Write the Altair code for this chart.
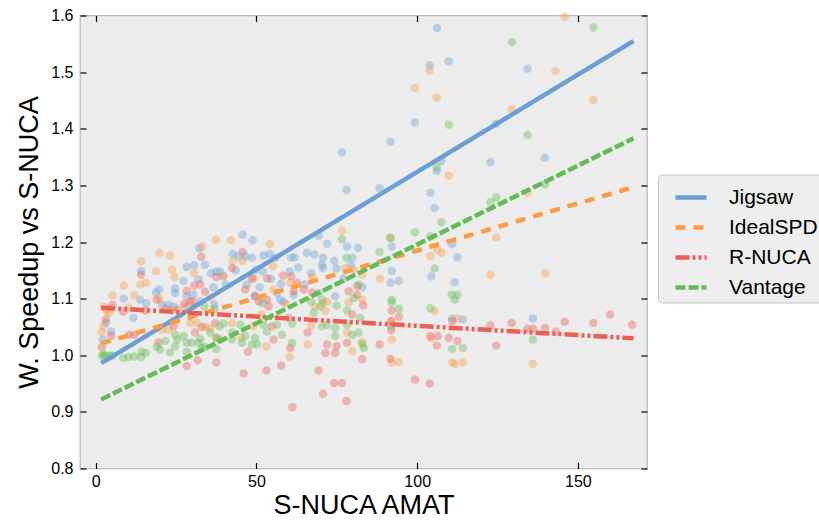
import altair as alt
import pandas as pd

# Series and styling
SERIES = ["Jigsaw", "IdealSPD", "R-NUCA", "Vantage"]
COLORS = ["#6b9fd4", "#fd9b45", "#ec5f57", "#63bb55"]
DASHES = [[1, 0], [10, 8], [14, 3, 3, 3, 3, 3], [10, 3]]

X_TICKS = [0, 50, 100, 150]
Y_TICKS = [0.8, 0.9, 1.0, 1.1, 1.2, 1.3, 1.4, 1.5, 1.6]

# Per-workload measurements: S-NUCA AMAT vs weighted speedup
jigsaw_x = [2.1, 3.2, 4.8, 8.7, 11.7, 13.8, 14.1, 15.7, 18.8, 19.7, 20.6, 22.6, 24.2, 24.7, 24.7,
            27.3, 28.3, 28.3, 30.4, 30.6, 32.0, 32.2, 32.5, 34.0, 35.9, 36.6, 36.9, 37.5, 38.7,
            39.6, 40.5, 42.6, 43.5, 44.4, 45.7, 46.5, 47.0, 48.6, 48.8, 49.4, 49.8, 51.0, 52.0,
            52.2, 54.1, 54.5, 55.9, 56.4, 57.4, 57.6, 58.4, 60.3, 60.8, 61.6, 61.9, 63.0, 65.0,
            65.7, 67.0, 68.0, 69.3, 69.3, 70.4, 70.7, 70.7, 72.0, 74.2, 74.5, 74.9, 76.6, 77.0,
            78.0, 78.2, 79.4, 79.8, 81.6, 83.0, 88.3, 91.7, 91.7, 92.1, 92.1, 94.3, 99.3, 103.9,
            104.1, 104.4, 105.4, 106.1, 106.2, 107.5, 109.8, 110.9, 110.9, 111.7, 112.5, 114.2,
            122.8, 124.6, 134.3, 136.0, 139.7]
jigsaw_y = [1.028, 1.057, 1.042, 1.100, 1.066, 1.098, 1.149, 1.092, 1.111, 1.116, 1.089, 1.089,
            1.086, 1.118, 1.110, 1.131, 1.156, 1.104, 1.107, 1.159, 1.134, 1.189, 1.095, 1.160,
            1.145, 1.120, 1.089, 1.148, 1.148, 1.139, 1.125, 1.179, 1.150, 1.175, 1.213, 1.175,
            1.125, 1.172, 1.203, 1.105, 1.151, 1.120, 1.148, 1.176, 1.179, 1.135, 1.172, 1.110,
            1.098, 1.126, 1.094, 1.148, 1.172, 1.107, 1.173, 1.155, 1.125, 1.181, 1.145, 1.178,
            1.211, 1.110, 1.160, 1.172, 1.154, 1.197, 1.167, 1.104, 1.153, 1.358, 1.135, 1.292,
            1.192, 1.159, 1.172, 1.190, 1.120, 1.295, 1.377, 1.128, 1.192, 1.149, 1.131, 1.411,
            1.512, 1.287, 1.139, 1.260, 1.326, 1.578, 1.343, 1.519, 1.196, 1.065, 1.129, 1.173,
            1.063, 1.341, 1.409, 1.506, 1.065, 1.349]

idealspd_x = [1.9, 2.4, 2.4, 3.4, 4.2, 4.5, 5.2, 8.7, 10.2, 12.0, 13.8, 14.1, 15.6, 18.8, 19.8,
              19.8, 20.6, 22.6, 23.1, 23.7, 23.7, 24.5, 27.8, 29.4, 30.6, 31.5, 33.2, 34.0, 35.6,
              35.9, 37.4, 37.5, 39.8, 42.1, 42.4, 42.6, 45.3, 45.7, 49.1, 49.1, 51.5, 53.1, 54.2,
              55.1, 55.3, 59.0, 60.3, 60.5, 65.9, 67.0, 67.3, 68.3, 70.7, 71.4, 72.0, 76.6, 77.7,
              78.2, 78.7, 79.8, 80.3, 82.9, 82.9, 82.9, 88.4, 91.7, 91.9, 92.1, 92.1, 94.3, 99.3,
              103.9, 104.1, 104.4, 105.4, 106.1, 106.3, 107.6, 109.8, 110.9, 111.7, 112.5, 114.2,
              122.8, 124.6, 129.4, 134.3, 136.0, 139.8, 143.0, 145.9, 154.8]
idealspd_y = [1.041, 1.051, 1.086, 1.079, 1.075, 1.083, 1.106, 1.123, 1.084, 1.106, 1.125, 1.166,
              1.128, 1.149, 1.181, 1.100, 1.045, 1.045, 1.176, 1.151, 1.079, 1.138, 1.086, 1.057,
              1.145, 1.057, 1.192, 1.050, 1.048, 1.101, 1.204, 1.031, 1.140, 1.203, 1.057, 1.166,
              1.031, 1.167, 1.136, 1.051, 1.072, 1.016, 1.197, 1.157, 1.116, 1.092, 0.997, 1.128,
              1.019, 1.052, 1.138, 1.086, 1.092, 1.078, 1.095, 1.220, 1.154, 1.040, 1.093, 1.007,
              1.151, 1.142, 1.098, 1.023, 1.135, 1.207, 1.060, 1.028, 0.987, 0.988, 1.472, 1.503,
              1.175, 1.030, 1.078, 1.455, 1.186, 1.181, 1.317, 0.987, 0.985, 1.065, 0.987, 1.142,
              1.208, 1.435, 1.287, 0.985, 1.145, 1.502, 1.598, 1.451]

rnuca_x = [1.9, 3.1, 4.8, 5.2, 8.6, 10.4, 12.0, 14.1, 15.4, 19.0, 19.5, 21.8, 24.2, 25.4, 27.6,
           28.3, 28.3, 29.4, 30.1, 30.6, 30.9, 31.7, 32.5, 32.8, 33.0, 34.0, 37.2, 37.5, 37.5,
           42.4, 45.7, 46.0, 46.5, 47.4, 48.6, 49.6, 50.7, 53.1, 53.3, 53.3, 53.8, 54.8, 55.3,
           57.7, 58.2, 60.0, 60.5, 60.8, 61.2, 61.6, 62.6, 64.7, 65.9, 67.3, 69.3, 70.7, 71.4,
           72.0, 74.2, 74.5, 74.9, 76.6, 78.0, 78.2, 78.7, 79.8, 81.3, 81.3, 82.9, 83.2, 88.3,
           91.7, 91.9, 91.9, 92.1, 94.3, 99.3, 103.9, 104.1, 106.1, 106.4, 109.8, 110.9, 112.5,
           122.8, 124.6, 129.4, 134.3, 136.1, 139.8, 143.1, 145.9, 154.8, 160.0, 166.9]
rnuca_y = [1.014, 1.063, 1.034, 1.089, 1.077, 1.036, 1.036, 1.142, 1.079, 1.098, 1.023, 1.082,
           1.051, 1.081, 1.091, 1.114, 0.981, 1.094, 1.096, 1.123, 1.040, 0.991, 1.125, 1.174,
           1.050, 1.112, 1.057, 1.138, 0.987, 1.154, 1.183, 0.968, 1.116, 1.006, 1.135, 1.104,
           1.095, 0.973, 1.136, 1.098, 1.086, 1.051, 1.028, 0.982, 1.141, 1.066, 1.013, 1.139,
           0.908, 1.113, 1.128, 1.116, 1.040, 1.111, 0.973, 0.932, 1.004, 1.019, 0.951, 1.004,
           1.016, 0.951, 0.919, 1.022, 1.113, 1.072, 1.107, 1.122, 0.993, 1.088, 1.019, 0.994,
           1.060, 1.044, 1.079, 1.068, 0.957, 0.950, 1.034, 1.017, 1.034, 1.031, 1.060, 1.025,
           1.053, 1.017, 1.057, 1.047, 1.047, 1.048, 1.042, 1.059, 1.057, 1.072, 1.054]

vantage_x = [1.9, 2.4, 2.9, 4.5, 5.2, 8.6, 10.2, 12.0, 14.1, 14.3, 15.6, 19.0, 20.0, 21.6, 23.1,
             24.7, 24.7, 25.4, 27.3, 28.3, 28.3, 29.9, 32.0, 32.5, 33.0, 33.8, 34.0, 35.6, 36.9,
             37.5, 37.5, 38.5, 38.7, 39.8, 42.4, 42.4, 45.0, 45.5, 46.5, 48.6, 49.6, 50.2, 51.9,
             52.2, 53.3, 56.4, 57.9, 61.1, 61.1, 67.0, 67.8, 69.9, 70.4, 70.4, 72.0, 74.5, 74.5,
             74.9, 76.6, 78.0, 78.2, 78.2, 79.8, 80.3, 81.8, 81.8, 82.3, 82.9, 83.4, 88.3, 91.7,
             91.9, 92.1, 92.1, 94.3, 99.3, 104.1, 104.1, 105.4, 106.1, 107.5, 109.8, 110.7, 110.9,
             111.7, 112.5, 114.2, 122.8, 124.6, 129.5, 134.3, 136.0, 139.7, 154.8]
vantage_y = [0.999, 1.001, 1.000, 0.999, 0.999, 0.995, 0.997, 0.998, 0.997, 1.006, 1.004, 1.015,
             1.010, 1.025, 1.005, 1.036, 1.016, 1.028, 1.034, 1.022, 1.006, 1.022, 1.022, 1.029,
             1.013, 1.086, 1.015, 1.040, 1.082, 1.011, 1.031, 1.051, 1.028, 1.056, 1.040, 1.028,
             1.054, 1.022, 1.034, 1.019, 1.031, 1.019, 1.092, 1.054, 1.042, 1.054, 1.036, 1.056,
             1.022, 1.094, 1.075, 1.086, 1.098, 1.051, 1.054, 1.048, 1.034, 1.088, 1.205, 1.172,
             1.079, 1.054, 1.036, 1.101, 1.125, 1.040, 1.066, 1.020, 1.013, 1.183, 1.207, 1.051,
             1.098, 1.093, 1.082, 1.217, 1.210, 1.083, 1.153, 1.332, 1.235, 1.407, 1.107, 1.011,
             1.098, 1.107, 1.013, 1.270, 1.279, 1.553, 1.389, 1.028, 1.302, 1.579]

# Linear fits, evaluated at the ends of the AMAT range
fit_x = [1.7, 167.3]
jigsaw_fit = [0.986, 1.555]
idealspd_fit = [1.021, 1.297]
rnuca_fit = [1.084, 1.030]
vantage_fit = [0.922, 1.383]

series_points = {
    "Jigsaw": (jigsaw_x, jigsaw_y),
    "IdealSPD": (idealspd_x, idealspd_y),
    "R-NUCA": (rnuca_x, rnuca_y),
    "Vantage": (vantage_x, vantage_y),
}
series_fits = {
    "Jigsaw": jigsaw_fit,
    "IdealSPD": idealspd_fit,
    "R-NUCA": rnuca_fit,
    "Vantage": vantage_fit,
}

pts = pd.DataFrame(
    [{"series": s, "amat": x, "speedup": y, "rank": SERIES.index(s)}
     for s, (xs, ys) in series_points.items() for x, y in zip(xs, ys)]
)
fits = pd.DataFrame(
    [{"series": s, "amat": x, "speedup": y, "order": i}
     for s, ys in series_fits.items() for i, (x, y) in enumerate(zip(fit_x, ys))]
)

W, H = 567, 453
FONT = "Liberation Sans"

x_scale = alt.Scale(domain=[-4.9, 171.5], nice=False, zero=False)
y_scale = alt.Scale(domain=[0.8, 1.6], nice=False, zero=False)
color_scale = alt.Scale(domain=SERIES, range=COLORS)
dash_scale = alt.Scale(domain=SERIES, range=DASHES)

tick_style = dict(labels=False, domain=False, grid=False, ticks=True, tickSize=6,
                  tickWidth=1.2, tickColor="black", title=None)

points = alt.Chart(pts).mark_circle(size=72, opacity=0.4).encode(
    x=alt.X("amat:Q", scale=x_scale,
            axis=alt.Axis(orient="bottom", values=X_TICKS, ticks=False, domain=False,
                          grid=False, labelFontSize=16, labelPadding=5, labelFlush=False,
                          title="S-NUCA AMAT", titleFontSize=27, titlePadding=3)),
    y=alt.Y("speedup:Q", scale=y_scale,
            axis=alt.Axis(orient="left", values=Y_TICKS, format=".1f", ticks=False,
                          domain=False, grid=False, labelFontSize=16, labelPadding=7,
                          labelFlush=False, title="W. Speedup vs S-NUCA",
                          titleFontSize=27, titlePadding=7)),
    fill=alt.Fill("series:N", scale=color_scale, legend=None),
    order=alt.Order("rank:Q"),
)

legend = alt.Legend(title=None, orient="none", legendX=578, legendY=159,
                    symbolType="stroke", symbolSize=961, symbolStrokeWidth=4.5,
                    symbolOffset=10, labelFontSize=21, labelOffset=20, labelColor="black",
                    rowPadding=2, padding=5, fillColor="#eeeeee", strokeColor="#c6c6c6",
                    cornerRadius=4)

lines = alt.Chart(fits).mark_line(strokeWidth=4.5, strokeCap="butt").encode(
    x=alt.X("amat:Q", scale=x_scale,
            axis=alt.Axis(orient="top", offset=-H, values=X_TICKS, **tick_style)),
    y=alt.Y("speedup:Q", scale=y_scale,
            axis=alt.Axis(orient="right", offset=-W, values=Y_TICKS, **tick_style)),
    stroke=alt.Stroke("series:N", scale=color_scale, legend=legend),
    strokeDash=alt.StrokeDash("series:N", scale=dash_scale, legend=legend),
    order="order:Q",
)

# Mirrored inward ticks along the top and right edges
frame_ticks = alt.Chart(fits).mark_point(opacity=0).encode(
    x=alt.X("amat:Q", scale=x_scale,
            axis=alt.Axis(orient="bottom", offset=-H, values=X_TICKS, **tick_style)),
    y=alt.Y("speedup:Q", scale=y_scale,
            axis=alt.Axis(orient="left", offset=-W, values=Y_TICKS, **tick_style)),
)

chart = alt.layer(points, lines, frame_ticks).resolve_axis(
    x="independent", y="independent"
).resolve_scale(
    fill="independent"
).properties(
    width=W, height=H,
    autosize=alt.AutoSizeParams(type="none"),
    padding={"left": 80, "top": 15.5, "right": 172, "bottom": 54.5},
    background="white",
).configure(
    font=FONT,
).configure_view(
    fill="#ececec", stroke="#bdbdbd", strokeWidth=1.3,
).configure_axis(
    labelColor="black", titleColor="black", titleFontWeight="normal",
    labelFont=FONT, titleFont=FONT,
).configure_legend(
    labelFont=FONT,
)

chart.save("out.html", embed_options={"renderer": "svg", "actions": False})
